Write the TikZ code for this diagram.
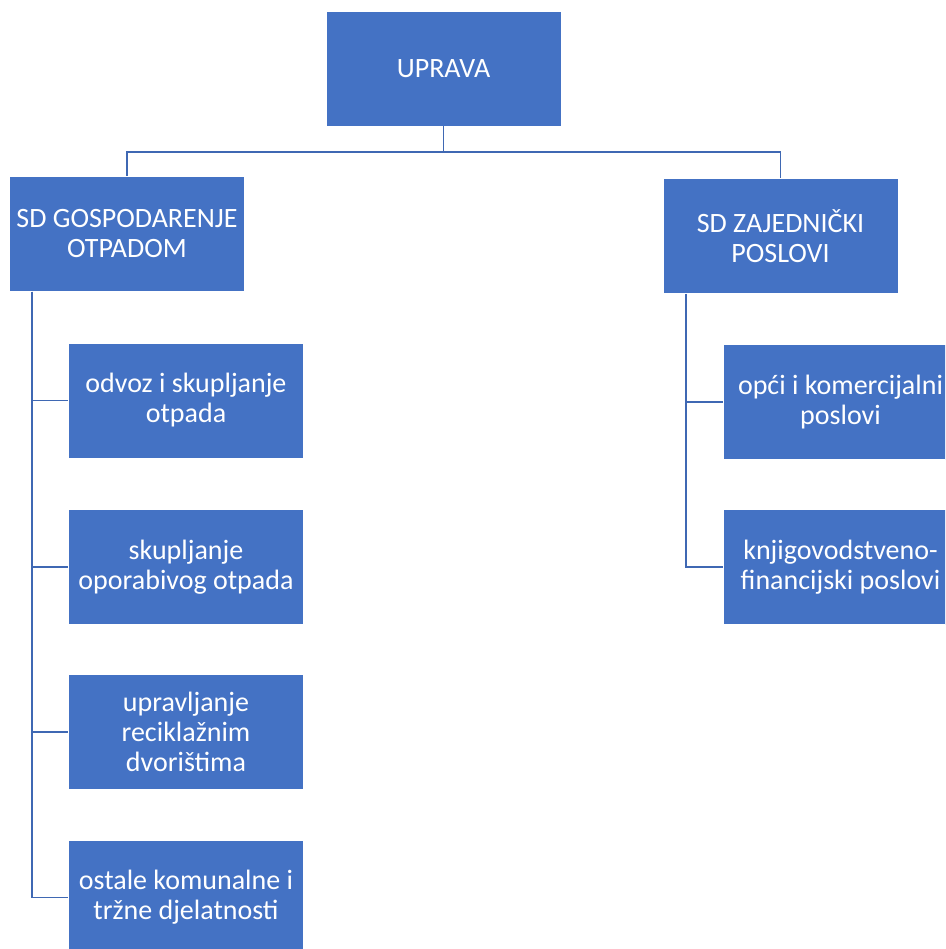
\documentclass[tikz,border=0pt]{standalone}
\usepackage{fontspec}
\setmainfont{Carlito}
\definecolor{ublue}{HTML}{4472C4}
\definecolor{lblue}{HTML}{3F68B3}
\begin{document}
\begin{tikzpicture}[x=1pt,y=-1pt,
  orgbox/.style={rectangle, fill=ublue, draw=white, line width=0.8pt, text=white,
    minimum width=235pt, minimum height=115pt, inner sep=0pt, align=center,
    font=\fontsize{28}{30}\selectfont},
  conn/.style={draw=lblue, line width=1.8pt}]
\clip (0,0) rectangle (945,949);
\fill[white] (0,0) rectangle (945,949);
\node[orgbox] (u) at (443.5,68.5) {UPRAVA};
\node[orgbox] (g) at (127,234) {SD GOSPODARENJE\\OTPADOM};
\node[orgbox] (z) at (780.5,236) {SD ZAJEDNIČKI\\POSLOVI};
\node[orgbox] (c1) at (186,400.5) {odvoz i skupljanje\\otpada};
\node[orgbox] (c2) at (186,567) {skupljanje\\oporabivog otpada};
\node[orgbox] (c3) at (186,732) {upravljanje\\reciklažnim\\dvorištima};
\node[orgbox] (c4) at (186,897.5) {ostale komunalne i\\tržne djelatnosti};
\node[orgbox] (r1) at (840.5,402) {opći i komercijalni\\poslovi};
\node[orgbox] (r2) at (840.5,567) {knjigovodstveno-\\financijski poslovi};
\coordinate (mid) at ([yshift=-26pt]u.south);
\draw[conn] (u.south) -- (mid) -| (g.north);
\draw[conn] (mid) -| (z.north);
\foreach \c in {c1,c2,c3,c4}{\draw[conn] ([xshift=23pt]g.south west) |- (\c.west);}
\foreach \c in {r1,r2}{\draw[conn] ([xshift=23pt]z.south west) |- (\c.west);}
\end{tikzpicture}
\end{document}
